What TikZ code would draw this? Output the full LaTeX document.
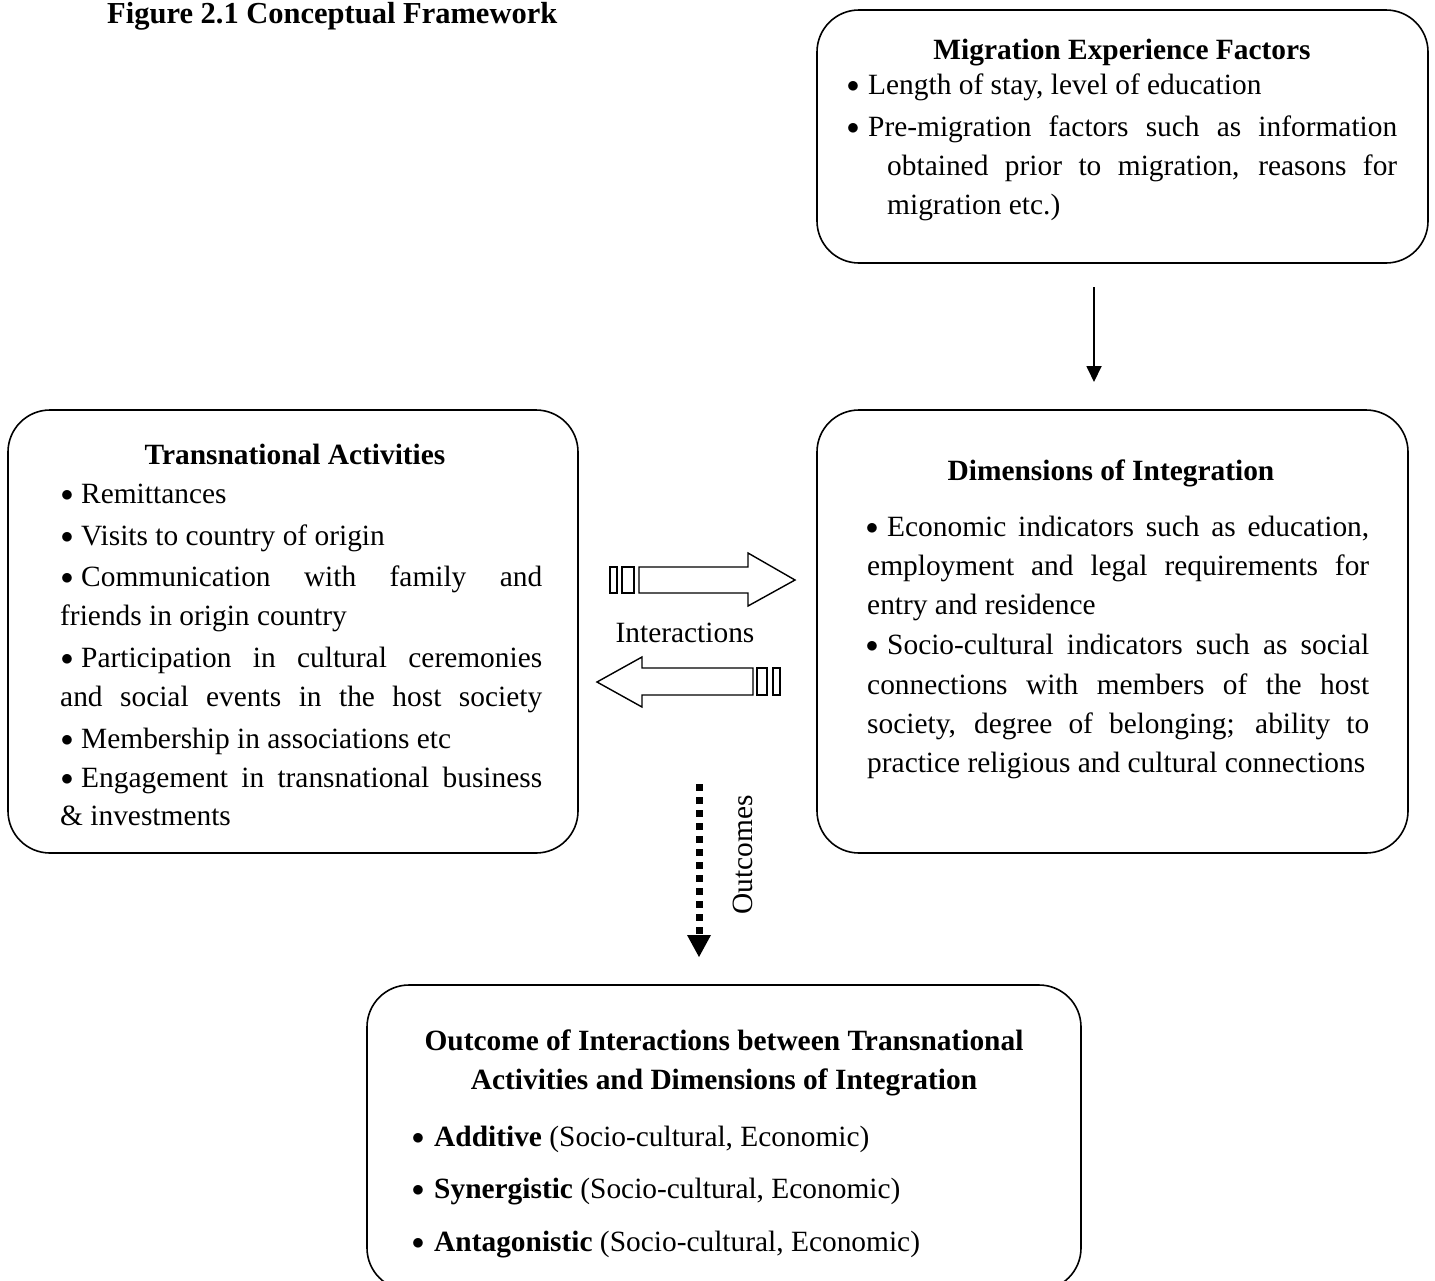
\documentclass[tikz,border=0pt]{standalone}
\usepackage{fontspec}
\setmainfont{Liberation Serif}
\usetikzlibrary{arrows.meta}
\newcommand{\jl}[2]{\makebox[#1][s]{#2}}
\newcommand{\bulg}{\raisebox{2pt}{\fontsize{23.5}{23.5}\selectfont$\bullet$}}
\newcommand{\bulx}[1]{\kern-1.3pt\makebox[#1][l]{\bulg}}
\newcommand{\bul}{\bulx{21.3pt}}
\begin{document}
\begin{tikzpicture}[x=1pt,y=-1pt,
  box/.style={draw,line width=1.6pt,rounded corners=42pt},
  txt/.style={anchor=base west,inner sep=0pt,font=\fontsize{29.4}{40}\selectfont},
  hd/.style={anchor=base,inner sep=0pt,font=\fontsize{29.4}{40}\selectfont\bfseries},
  blk/.style={draw,line width=1.4pt,fill=white}]
\useasboundingbox (0,0) rectangle (1435,1280);
% title
\node[hd,anchor=base west,font=\fontsize{30.5}{40}\selectfont\bfseries] (title) at (107,23) {Figure 2.1 Conceptual Framework};
% boxes
\draw[box] (817,10) rectangle (1428,263);
\draw[box] (8,410) rectangle (578,853);
\draw[box] (817,410) rectangle (1408,853);
\draw[box] (367,985) rectangle (1081,1290);
% Migration box
\node[hd] (mh) at (1122,59) {Migration Experience Factors};
\node[txt] (m1) at (848,94) {\bul Length of stay, level of education};
\node[txt] (m2) at (848,136) {\jl{549pt}{\bul Pre-migration factors such as information}};
\node[txt] (m3) at (887,175) {\jl{510pt}{obtained prior to migration, reasons for}};
\node[txt] (m4) at (887,214) {migration etc.)};
% Transnational box
\node[hd] (th) at (295,464) {Transnational Activities};
\node[txt] (t1) at (62,503) {\bulx{20.3pt}Remittances};
\node[txt] (t2) at (62,545) {\bulx{20.3pt}Visits to country of origin};
\node[txt] (t3) at (62,586) {\jl{480pt}{\bulx{20.3pt}Communication with family and}};
\node[txt] (t4) at (60,625) {friends in origin country};
\node[txt] (t5) at (62,667) {\jl{480pt}{\bulx{20.3pt}Participation in cultural ceremonies}};
\node[txt] (t6) at (60,706) {\jl{482pt}{and social events in the host society}};
\node[txt] (t7) at (62,748) {\bulx{20.3pt}Membership in associations etc};
\node[txt] (t8) at (62,787) {\jl{480pt}{\bulx{20.3pt}Engagement in transnational business}};
\node[txt] (t9) at (60,825) {\& investments};
% Dimensions box
\node[hd] (dh) at (1111,480) {Dimensions of Integration};
\node[txt] (d1) at (867,536) {\jl{502pt}{\bul Economic indicators such as education,}};
\node[txt] (d2) at (867,575) {\jl{502pt}{employment and legal requirements for}};
\node[txt] (d3) at (867,614) {entry and residence};
\node[txt] (d4) at (867,654) {\jl{502pt}{\bul Socio-cultural indicators such as social}};
\node[txt] (d5) at (867,694) {\jl{502pt}{connections with members of the host}};
\node[txt] (d6) at (867,733) {\jl{502pt}{society, degree of belonging; ability to}};
\node[txt] (d7) at (867,772) {practice religious and cultural connections};
% Outcome box
\node[hd] (oh1) at (724,1050) {Outcome of Interactions between Transnational};
\node[hd] (oh2) at (724,1089) {Activities and Dimensions of Integration};
\node[txt] (o1) at (413,1146) {\bulx{22.3pt}\textbf{Additive} (Socio-cultural, Economic)};
\node[txt] (o2) at (413,1198) {\bulx{22.3pt}\textbf{Synergistic} (Socio-cultural, Economic)};
\node[txt] (o3) at (413,1251) {\bulx{22.3pt}\textbf{Antagonistic} (Socio-cultural, Economic)};
% vertical arrow
\coordinate (va1) at (1094,287);
\coordinate (va2) at (1094,382);
\draw[line width=1.8pt,-{Triangle[length=16pt,width=15pt]}] (va1) -- (va2);
% striped block arrows
\draw[blk] (610,567) rectangle (617,593);
\draw[blk] (622,567) rectangle (634,593);
\draw[blk] (639,567)--(748,567)--(748,553)--(795,580)--(748,606)--(748,593)--(639,593)--cycle;
\draw[blk] (597,682)--(642,657)--(642,668)--(753,668)--(753,695)--(642,695)--(642,707)--cycle;
\draw[blk] (757,668) rectangle (767,695);
\draw[blk] (773,668) rectangle (780,695);
\node[txt,anchor=base] (inter) at (685,642) {Interactions};
% dotted arrow
\coordinate (da1) at (699,784);
\coordinate (da2) at (699,935);
\draw[line width=7pt,dash pattern=on 7pt off 6pt] (da1) -- (da2);
\fill (687,935) -- (711,935) -- (699,957) -- cycle;
\node[txt,anchor=center,rotate=90] (outc) at (743,855) {Outcomes};
\end{tikzpicture}
\end{document}
